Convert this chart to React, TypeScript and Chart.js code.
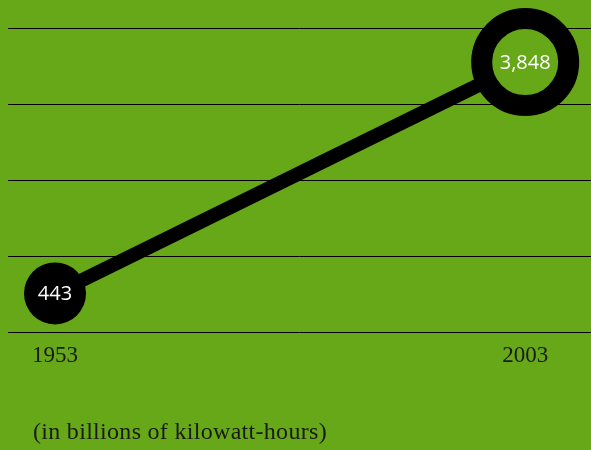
import React, { useEffect, useRef } from "react";
import { Chart, registerables } from "chart.js";

Chart.register(...registerables);

const years = [1953, 2003];
const values = [443, 3848];
const gridValues = [-130, 990, 2110, 3230, 4350];
const caption = "(in billions of kilowatt-hours)";

const GREEN = "#66a817";

const labelPlugin = {
  id: "pointLabels",
  afterDatasetsDraw(chart: any) {
    const ctx = chart.ctx;
    const meta = chart.getDatasetMeta(0);
    ctx.save();
    ctx.fillStyle = "#ffffff";
    ctx.font = '20px "Open Sans", sans-serif';
    ctx.textAlign = "center";
    ctx.textBaseline = "middle";
    meta.data.forEach((el: any, i: number) => {
      ctx.fillText(values[i].toLocaleString("en-US"), el.x, el.y + 1);
    });
    ctx.restore();
  },
  afterDraw(chart: any) {
    const ctx = chart.ctx;
    ctx.save();
    ctx.fillStyle = "#1a1a1a";
    ctx.font = '24px "Liberation Serif", serif';
    (ctx as any).letterSpacing = "0.3px";
    ctx.textAlign = "left";
    ctx.textBaseline = "alphabetic";
    ctx.fillText(caption, 33, 439);
    ctx.restore();
  },
};

export default function App() {
  const ref = useRef<HTMLCanvasElement>(null);
  useEffect(() => {
    if (!ref.current) return;
    const chart = new Chart(ref.current, {
      type: "line",
      data: {
        datasets: [
          {
            data: years.map((y, i) => ({ x: y, y: values[i] })),
            borderColor: "#000000",
            borderWidth: 14,
            pointRadius: [31, 43.5],
            pointBackgroundColor: ["#000000", GREEN],
            pointBorderColor: ["#000000", "#000000"],
            pointBorderWidth: [0, 21],
            clip: false as any,
          },
        ],
      },
      options: {
        animation: false,
        responsive: false,
        layout: { autoPadding: false, padding: { top: 28, left: 8, right: 0, bottom: 70 } },
        plugins: {
          legend: { display: false },
          tooltip: { enabled: false },
        },
        scales: {
          x: {
            type: "linear",
            min: 1948,
            max: 2010,
            afterBuildTicks: (axis: any) => {
              axis.ticks = years.map((v) => ({ value: v }));
            },
            grid: { display: false, drawTicks: false },
            border: { display: false },
            ticks: {
              padding: 10,
              color: "#1a1a1a",
              font: { family: '"Liberation Serif", serif', size: 23 },
              callback: (v: any) => String(v),
              maxRotation: 0,
            },
          },
          y: {
            min: gridValues[0],
            max: gridValues[gridValues.length - 1],
            afterBuildTicks: (axis: any) => {
              axis.ticks = gridValues.map((v) => ({ value: v }));
            },
            grid: { color: "#000000", lineWidth: 1, drawTicks: false },
            border: { display: false },
            ticks: { display: false },
          },
        },
      },
      plugins: [labelPlugin],
    });
    return () => chart.destroy();
  }, []);
  return (
    <div
      style={{
        position: "absolute",
        left: 0,
        top: 0,
        width: 591,
        height: 450,
        background: GREEN,
      }}
    >
      <canvas ref={ref} width={591} height={450} style={{ width: 591, height: 450 }} />
    </div>
  );
}
